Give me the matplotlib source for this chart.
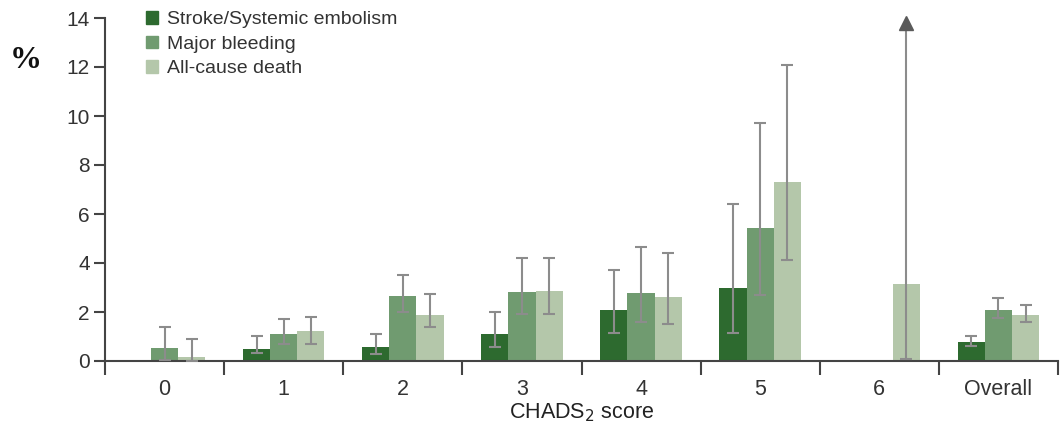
import matplotlib
matplotlib.use("Agg")
import matplotlib.pyplot as plt
from matplotlib.patches import Patch
import numpy as np

plt.rcParams['font.family'] = ['Liberation Sans', 'DejaVu Sans']

categories = ["0", "1", "2", "3", "4", "5", "6", "Overall"]
series_names = ["Stroke/Systemic embolism", "Major bleeding", "All-cause death"]
colors = ["#2d6a2f", "#709b70", "#b4c7aa"]

# values (%), NaN = no bar
stroke = [np.nan, 0.48, 0.56, 1.10, 2.08, 3.00, np.nan, 0.78]
stroke_lo = [np.nan, 0.34, 0.29, 0.58, 1.13, 1.13, np.nan, 0.60]
stroke_hi = [np.nan, 1.02, 1.10, 2.00, 3.70, 6.40, np.nan, 1.02]

bleed = [0.52, 1.10, 2.67, 2.83, 2.76, 5.42, np.nan, 2.08]
bleed_lo = [0.05, 0.69, 2.01, 1.90, 1.60, 2.69, np.nan, 1.77]
bleed_hi = [1.39, 1.70, 3.50, 4.20, 4.65, 9.70, np.nan, 2.56]

death = [0.18, 1.21, 1.88, 2.85, 2.60, 7.29, 3.13, 1.87]
death_lo = [0.0, 0.69, 1.40, 1.90, 1.50, 4.12, 0.08, 1.60]
death_hi = [0.89, 1.81, 2.72, 4.20, 4.40, 12.10, 14.0, 2.30]
death_open_upper = [False, False, False, False, False, False, True, False]

values = [stroke, bleed, death]
lows = [stroke_lo, bleed_lo, death_lo]
highs = [stroke_hi, bleed_hi, death_hi]

fig = plt.figure(figsize=(10.6, 4.3), dpi=100)
ax = fig.add_axes([105/1060, 1-361/430, (1058-105)/1060, (361-18)/430])

x = np.arange(len(categories))
w = 0.228
err_color = "#8c8c8c"
for i, (vals, lo, hi) in enumerate(zip(values, lows, highs)):
    pos = x + (i - 1) * w
    v = np.array(vals, dtype=float)
    ax.bar(pos, np.nan_to_num(v), width=w, color=colors[i], zorder=2)
    lo = np.array(lo, dtype=float)
    hi = np.array(hi, dtype=float)
    for j in range(len(pos)):
        if np.isnan(v[j]):
            continue
        if i == 2 and death_open_upper[j]:
            ax.plot([pos[j], pos[j]], [lo[j], hi[j] - 0.3], color=err_color, lw=1.5, zorder=3,
                    solid_capstyle='butt', clip_on=False)
            ax.plot([pos[j]], [lo[j]], marker='_', ms=9, mew=1.5, color=err_color, zorder=3,
                    clip_on=False)
            ax.plot([pos[j]], [hi[j] - 0.22], marker='^', ms=10, color='#5a5a5a', mec='#5a5a5a',
                    zorder=4, clip_on=False)
        else:
            ax.errorbar([pos[j]], [v[j]], yerr=[[v[j]-lo[j]], [hi[j]-v[j]]], fmt='none',
                        ecolor=err_color, elinewidth=1.5, capsize=4.5, capthick=1.5, zorder=3)

ax.set_xlim(-0.5, len(categories) - 0.5)
ax.set_ylim(0, 14)
ax.set_yticks(np.arange(0, 15, 2))
ax.set_xticks(np.arange(-0.5, len(categories), 1.0))
ax.set_xticklabels([])
ax.set_xticks(x, minor=True)
ax.set_xticklabels(categories, minor=True)
ax.tick_params(axis='x', which='minor', length=0, pad=13, labelsize=15.5, colors='#333333')
ax.tick_params(axis='x', which='major', length=10, width=1.5, direction='out', color='#444444')
ax.tick_params(axis='y', length=8, width=1.5, direction='out', color='#444444', labelsize=15,
               labelcolor='#333333', pad=3)
for s in ['top', 'right']:
    ax.spines[s].set_visible(False)
for s in ['left', 'bottom']:
    ax.spines[s].set_linewidth(1.5)
    ax.spines[s].set_color('#444444')

ax.set_xlabel("CHADS$_2$ score", fontsize=15.5, color='#222222', labelpad=1)

fig.text(26/1060, 1-61/430, "%", family=['Liberation Serif', 'DejaVu Serif'], fontsize=23,
         fontweight='bold', ha='center', va='center', color='#111111')

handles = [Patch(color=c) for c in colors]
ax.legend(handles, series_names, loc='upper left', bbox_to_anchor=(146/1060, 1-11/430),
          bbox_transform=fig.transFigure, frameon=False, fontsize=14,
          handlelength=0.62, handleheight=0.62, handletextpad=0.45, labelspacing=0.38,
          borderpad=0, borderaxespad=0, labelcolor='#333333')

fig.savefig("out.png", dpi=100)
